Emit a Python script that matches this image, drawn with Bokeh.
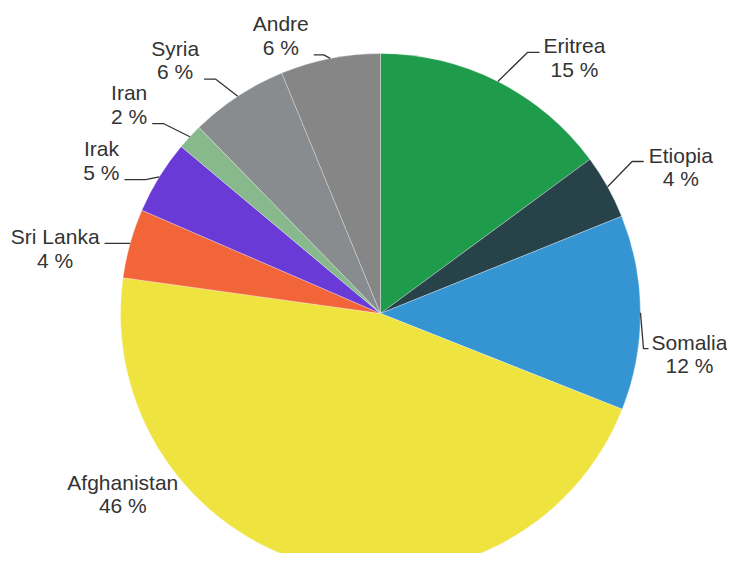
import math
from bokeh.plotting import figure
from bokeh.models import Range1d, ColumnDataSource
from bokeh.core.properties import value
from bokeh.embed import file_html
from bokeh.resources import INLINE

# ---- data ----
countries = ["Eritrea", "Etiopia", "Somalia", "Afghanistan", "Sri Lanka", "Irak", "Iran", "Syria", "Andre"]
shares = [14.9, 4.0, 12.1, 46.2, 4.3, 4.6, 1.6, 6.1, 6.2]
colors = ["#1e9c4b", "#284249", "#3595d3", "#efe340", "#f26539", "#6a3ad6", "#88b98d", "#888c8e", "#868686"]

# ---- layout (pixels) ----
W, H = 727, 553
CX, CY, R = 380, 240, 260
FONT = 21
LINE_GAP = 23.5
BASE_FIX = 7.5
# elbow offset from slice edge (screen dx, dy with y down), horizontal run, text gap,
# which text line sits on connector, draw line
label_layout = {
    "Eritrea":     ((29.7, -29.0), 12.0, 4, 1, True),
    "Etiopia":     ((24.6, -25.3), 11.6, 5, 1, True),
    "Somalia":     ((3.0, 36.0), 5.0, 3, 1, True),
    "Afghanistan": ((-131.0, -76.4), 0.0, 5, 1, False),
    "Sri Lanka":   ((-13.6, 0.0), -12.0, 5, 1, True),
    "Irak":        ((-13.7, 2.6), -21.0, 5, 2, True),
    "Iran":        ((-26.0, -13.0), -11.6, 5, 2, True),
    "Syria":       ((-22.0, -17.0), -11.7, 5, 2, True),
    "Andre":       ((-6.4, -3.6), -10.0, 5, 2, True),
}

CHAR_W = {" ": 278, "%": 889, "A": 667, "E": 667, "I": 278, "L": 556, "S": 667,
          "a": 556, "d": 556, "e": 556, "f": 278, "g": 556, "h": 556, "i": 222,
          "k": 500, "l": 222, "m": 833, "n": 556, "o": 556, "p": 556, "r": 333,
          "s": 500, "t": 278, "y": 500}


def text_width(s):
    return sum(CHAR_W.get(c, 556) for c in s) * FONT / 1000.0


total = sum(shares)
starts, ends, mids = [], [], []
cum = 0.0
for v in shares:
    a0 = cum / total
    cum += v
    a1 = cum / total
    starts.append(math.pi / 2 - 2 * math.pi * a0)
    ends.append(math.pi / 2 - 2 * math.pi * a1)
    mids.append(2 * math.pi * (a0 + a1) / 2)

p = figure(width=W, height=H, x_range=Range1d(0, W), y_range=Range1d(0, H),
           output_backend="svg", toolbar_location=None, min_border=0,
           x_axis_location=None, y_axis_location=None)
p.grid.visible = False
p.outline_line_color = None
p.background_fill_color = "white"
p.border_fill_color = "white"

src = ColumnDataSource(dict(start=starts, end=ends, color=colors))
p.wedge(x=CX, y=CY, radius=R, start_angle="start", end_angle="end", direction="clock",
        fill_color="color", line_color="white", line_width=0.5, line_alpha=0.6, source=src)

xs, ys = [], []
tx, ty, tt = [], [], []
for name, v, m in zip(countries, shares, mids):
    (dx, dy), run, gap, mode, show = label_layout[name]
    ex = CX + R * math.sin(m)
    ey = CY + R * math.cos(m)
    bx = ex + dx
    by = ey - dy
    endx = bx + run
    endy = by
    if show:
        xs.append([ex, bx, endx])
        ys.append([ey, by, endy])
    pct = f"{round(v)} %"
    bw = max(text_width(name), text_width(pct))
    right_side = math.sin(m) > 0
    if right_side:
        cx = endx + gap + bw / 2
    else:
        cx = endx - gap - bw / 2
    if mode == 1:
        b1 = endy - 1
    else:
        b1 = endy + LINE_GAP
    b1 += BASE_FIX
    b2 = b1 - LINE_GAP
    tx += [cx, cx]
    ty += [b1, b2]
    tt += [name, pct]

p.multi_line(xs, ys, line_color="#333333", line_width=1.3)
p.text(tx, ty, tt, text_align="center", text_baseline="alphabetic",
       text_font=value("Liberation Sans"), text_font_size=f"{FONT}px", text_color="#333333")

open("out.html", "w").write(file_html(p, INLINE))
